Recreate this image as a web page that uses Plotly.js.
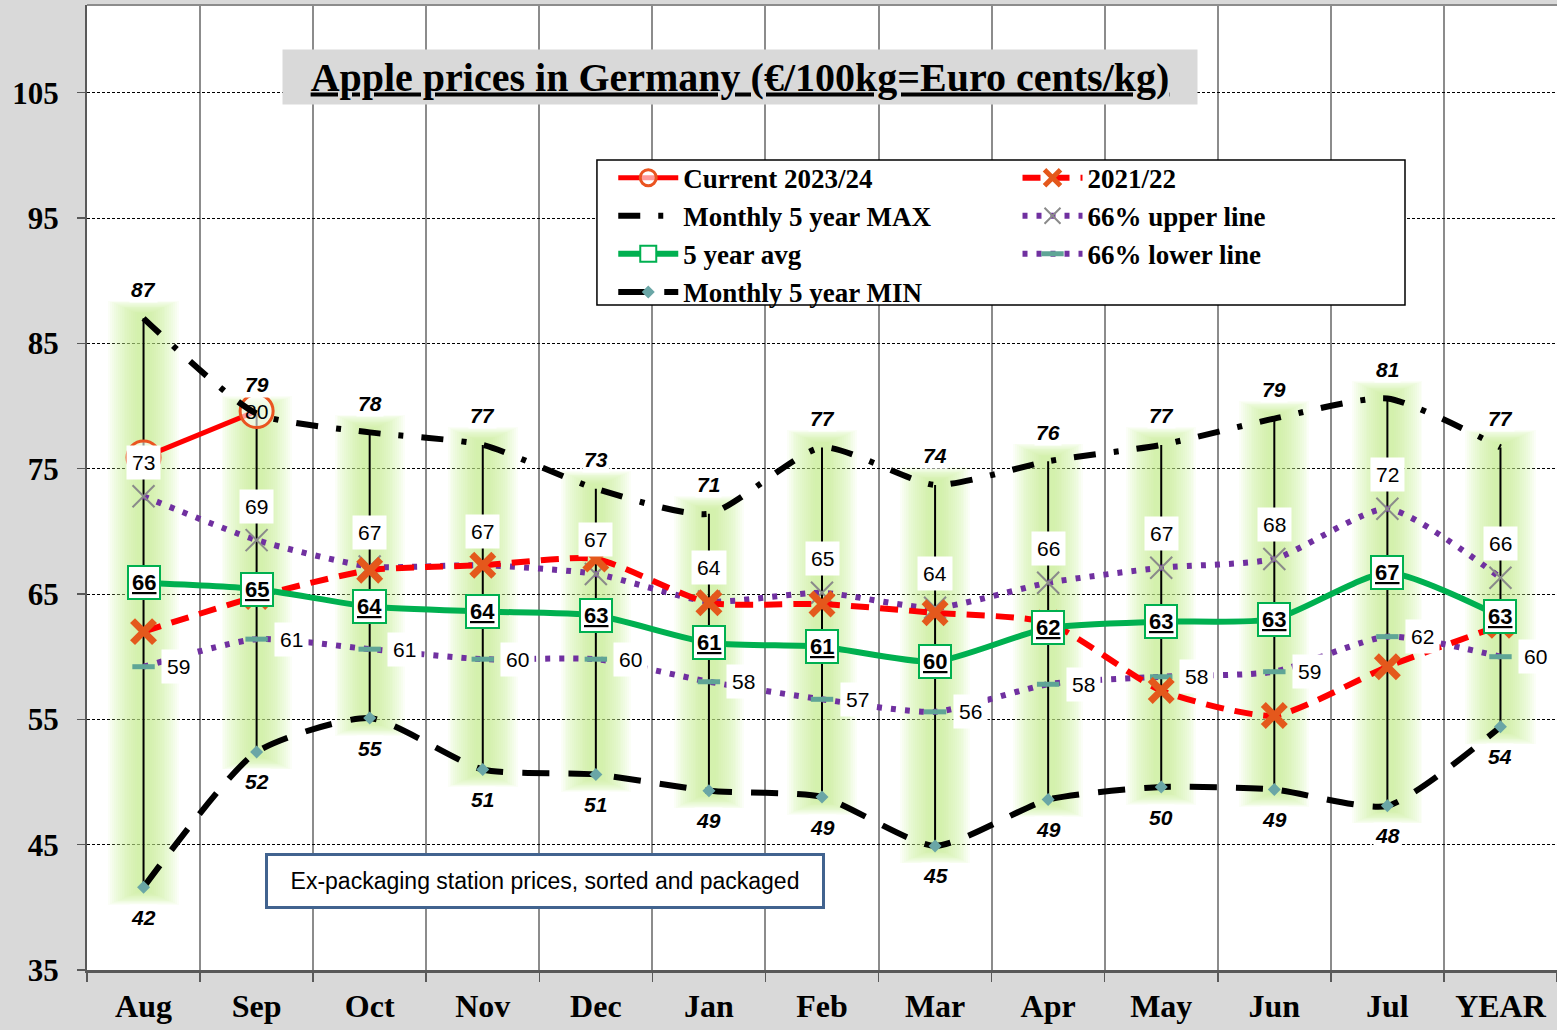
<!DOCTYPE html>
<html>
<head>
<meta charset="utf-8">
<script src="https://cdn.plot.ly/plotly-3.0.1.min.js"></script>
<style>
html,body{margin:0;padding:0;background:#d9d9d9;}
#chart{width:1557px;height:1030px;}
</style>
</head>
<body>
<div id="chart"></div>
<script>
// ---- data ----
const months = ['Aug','Sep','Oct','Nov','Dec','Jan','Feb','Mar','Apr','May','Jun','Jul','YEAR'];
const currentMonths = ['Aug','Sep'];
const current2324 = [75.9, 79.6];
const season2122 = [62.0, 64.8, 66.9, 67.3, 67.8, 64.3, 64.2, 63.5, 62.7, 57.3, 55.3, 59.2, 62.5];
const max5 = [87.0, 79.4, 77.9, 76.9, 73.4, 71.4, 76.7, 73.7, 75.6, 76.9, 79.0, 80.6, 76.7];
const min5 = [41.6, 52.4, 55.1, 51.0, 50.6, 49.3, 48.8, 44.9, 48.6, 49.6, 49.4, 48.1, 54.4];
const avg5 = [65.9, 65.4, 64.0, 63.6, 63.3, 61.1, 60.8, 59.6, 62.3, 62.8, 63.0, 66.7, 63.2];
const upper66 = [72.8, 69.3, 67.2, 67.3, 66.6, 64.4, 65.1, 63.9, 65.9, 67.1, 67.8, 71.8, 66.3];
const lower66 = [59.2, 61.4, 60.6, 59.8, 59.8, 58.0, 56.6, 55.6, 57.8, 58.4, 58.8, 61.6, 60.0];
const yTicks = [35, 45, 55, 65, 75, 85, 95, 105];

// ---- derived helpers ----
const glowBase = min5.slice();
const glowLen = max5.map((v, i) => v - min5[i]);
const hlX = [], hlY = [];
months.forEach((m, i) => { hlX.push(m, m, null); hlY.push(min5[i], max5[i], null); });

const serif = 'Liberation Serif, Times New Roman, serif';
const sans = 'Liberation Sans, Arial, sans-serif';

function glow(width, alpha, pad) {
  return {
    type: 'bar', x: months, y: glowLen.map(v => v + 2 * pad), base: glowBase.map(v => v - pad), width: width,
    marker: {color: 'rgba(200,238,140,' + alpha + ')', line: {width: 0}},
    showlegend: false, hoverinfo: 'skip'
  };
}

// soft glow built from stacked translucent bars
const glowSteps = 16;
const traces = [];
for (let k = 0; k < glowSteps; k++) {
  const t = k / (glowSteps - 1);
  traces.push(glow(0.62 - t * 0.5, 0.07, 1.4 - t * 1.0));
}

traces.push(
  {type: 'scatter', mode: 'lines', x: hlX, y: hlY, line: {color: '#000', width: 2},
   showlegend: false, hoverinfo: 'skip', connectgaps: false},
  {type: 'scatter', mode: 'lines+markers', name: 'Current 2023/24', x: currentMonths, y: current2324,
   line: {color: '#ff0000', width: 5},
   marker: {symbol: 'circle', size: 33, color: 'rgba(255,255,255,0.6)', line: {color: '#ea5420', width: 3}},
   legend: 'legend', legendrank: 1},
  {type: 'scatter', mode: 'lines', name: 'Monthly 5 year MAX', x: months, y: max5,
   line: {color: '#000', width: 6, dash: '22px,18px,5px,18px', shape: 'spline', smoothing: 0.6},
   legend: 'legend', legendrank: 2},
  {type: 'scatter', mode: 'lines+markers', name: 'Monthly 5 year MIN', x: months, y: min5,
   line: {color: '#000', width: 6, dash: '27px,19px', shape: 'spline', smoothing: 0.6},
   marker: {symbol: 'diamond', size: 10, color: '#6aa6a6'},
   legend: 'legend', legendrank: 4},
  {type: 'scatter', mode: 'lines+markers', name: '66% upper line', x: months, y: upper66,
   line: {color: '#7030a0', width: 6, dash: '5px,9px', shape: 'spline', smoothing: 0.6},
   marker: {symbol: 'x-thin-open', size: 22, color: '#8a8a8a', line: {color: '#8a8a8a', width: 2}},
   legend: 'legend2', legendrank: 2},
  {type: 'scatter', mode: 'lines+markers', name: '66% lower line', x: months, y: lower66,
   line: {color: '#7030a0', width: 6, dash: '5px,9px', shape: 'spline', smoothing: 0.6},
   marker: {symbol: 'line-ew-open', size: 16, color: '#5fa596', line: {color: '#5fa596', width: 5}},
   legend: 'legend2', legendrank: 3},
  {type: 'scatter', mode: 'lines+markers', name: '2021/22', x: months, y: season2122,
   line: {color: '#ff0000', width: 6, dash: '18px,11px', shape: 'spline', smoothing: 0.6},
   marker: {symbol: 'x-thin-open', size: 22, color: '#e4581c', line: {color: '#e4581c', width: 7}},
   legend: 'legend2', legendrank: 1},
  {type: 'scatter', mode: 'lines+markers', name: '5 year avg', x: months, y: avg5,
   line: {color: '#00b050', width: 6, shape: 'spline', smoothing: 0.6},
   marker: {symbol: 'square', size: 22, color: '#fff', line: {color: '#00b050', width: 2}},
   legend: 'legend', legendrank: 3}
);

const annotations = [];
const lblFont = {family: sans, size: 21, color: '#000'};
// current season: latest value labelled
const lastCur = current2324.length - 1;
annotations.push({
  x: currentMonths[lastCur], y: current2324[lastCur], xref: 'x', yref: 'y', showarrow: false,
  text: String(Math.round(current2324[lastCur])), font: lblFont
});
// max labels
months.forEach((m, i) => annotations.push({
  x: m, y: max5[i], xref: 'x', yref: 'y', showarrow: false, yshift: 29,
  text: '<b><i>' + Math.round(max5[i]) + '</i></b>', font: lblFont, bgcolor: '#fff', borderpad: 1
}));
// min labels
months.forEach((m, i) => annotations.push({
  x: m, y: min5[i], xref: 'x', yref: 'y', showarrow: false, yshift: -30,
  text: '<b><i>' + Math.round(min5[i]) + '</i></b>', font: lblFont, bgcolor: '#fff', borderpad: 1
}));
// upper labels
months.forEach((m, i) => annotations.push({
  x: m, y: upper66[i], xref: 'x', yref: 'y', showarrow: false, yshift: 34,
  text: String(Math.round(upper66[i])), font: lblFont, bgcolor: '#fff', borderpad: 5
}));
// lower labels
months.forEach((m, i) => annotations.push({
  x: m, y: lower66[i], xref: 'x', yref: 'y', showarrow: false, xshift: 35,
  text: String(Math.round(lower66[i])), font: lblFont, bgcolor: '#fff', borderpad: 5
}));
// avg labels
months.forEach((m, i) => annotations.push({
  x: m, y: avg5[i], xref: 'x', yref: 'y', showarrow: false,
  text: '<b><u>' + Math.round(avg5[i]) + '</u></b>', font: {family: sans, size: 22, color: '#000'},
  bgcolor: '#fff', bordercolor: '#00b050', borderwidth: 2, borderpad: 3
}));
// title
annotations.push({
  xref: 'paper', yref: 'paper', x: 0.444, y: 0.925, xanchor: 'center', yanchor: 'middle', showarrow: false,
  text: '<b><u>Apple prices in Germany (€/100kg=Euro cents/kg)</u></b>',
  font: {family: serif, size: 40, color: '#000'}, bgcolor: '#d9d9d9', width: 912, height: 52
});
// note box
annotations.push({
  xref: 'paper', yref: 'paper', x: 0.3116, y: 0.0922, xanchor: 'center', yanchor: 'middle', showarrow: false,
  text: 'Ex-packaging station prices, sorted and packaged',
  font: {family: sans, size: 23, color: '#000'}, bgcolor: '#fff',
  bordercolor: '#41638f', borderwidth: 3, borderpad: 2, width: 550, height: 46
});

const legendFont = {family: serif, size: 27, color: '#000', weight: 'bold'};
const layout = {
  width: 1557, height: 1030,
  margin: {l: 87, r: 0, t: 5, b: 60, pad: 0},
  paper_bgcolor: '#d9d9d9', plot_bgcolor: '#fff',
  barmode: 'overlay', bargap: 0,
  xaxis: {
    type: 'category', categoryarray: months, range: [-0.5, 12.5],
    tickson: 'boundaries', ticks: 'outside', ticklen: 9, tickcolor: '#595959', tickwidth: 1.5,
    ticklabelstandoff: 6,
    showgrid: true, gridcolor: '#8c8c8c', gridwidth: 2,
    showline: true, linecolor: '#595959', linewidth: 3,
    tickfont: {family: serif, size: 32, color: '#000', weight: 'bold'},
    fixedrange: true, zeroline: false
  },
  yaxis: {
    range: [35, 112], tickvals: yTicks, ticktext: yTicks.map(String),
    ticks: 'outside', ticklen: 8, tickcolor: '#595959', tickwidth: 1.5, ticklabelstandoff: 12,
    showgrid: true, gridcolor: '#000', gridwidth: 1, griddash: '3px,2px',
    showline: true, linecolor: '#595959', linewidth: 2,
    tickfont: {family: serif, size: 31, color: '#000', weight: 'bold'},
    fixedrange: true, zeroline: false
  },
  shapes: [
    {type: 'line', xref: 'paper', yref: 'paper', x0: 0, x1: 1, y0: 1, y1: 1, line: {color: '#8c8c8c', width: 2}},
    {type: 'rect', xref: 'paper', yref: 'paper', x0: 0.3469, x1: 0.8966, y0: 0.6891, y1: 0.8394,
     fillcolor: '#fff', line: {color: '#000', width: 1.5}, layer: 'above'}
  ],
  legend: {
    x: 0.358, y: 0.846, xanchor: 'left', yanchor: 'top', orientation: 'v',
    bgcolor: 'rgba(0,0,0,0)', borderwidth: 0, itemwidth: 60, tracegroupgap: 0,
    font: legendFont, traceorder: 'normal'
  },
  legend2: {
    x: 0.633, y: 0.846, xanchor: 'left', yanchor: 'top', orientation: 'v',
    bgcolor: 'rgba(0,0,0,0)', borderwidth: 0, itemwidth: 60, tracegroupgap: 0,
    font: legendFont, traceorder: 'normal'
  },
  annotations: annotations,
  showlegend: true
};

Plotly.newPlot('chart', traces, layout, {staticPlot: true, displayModeBar: false});
</script>
</body>
</html>
